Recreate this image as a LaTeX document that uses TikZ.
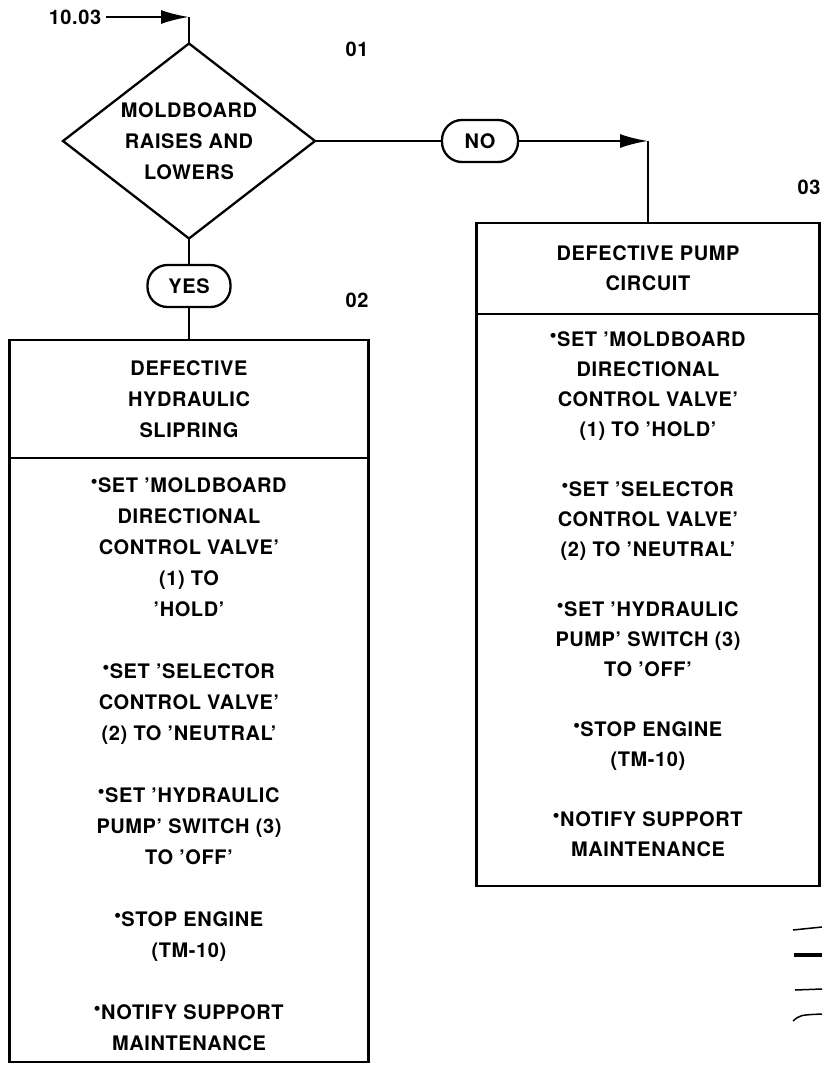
\documentclass[tikz,border=0pt]{standalone}
\usepackage{fontspec}
\setmainfont{TeX Gyre Heros}[LetterSpace=3]
\newfontfamily\dotfont{DejaVu Sans}
\usetikzlibrary{arrows.meta,positioning,shapes.geometric}

\newcommand{\stepdot}{\raisebox{9.5pt}{\dotfont\fontsize{6.5}{6.5}\selectfont ●}\hspace{1pt}}

\tikzset{
  flowline/.style={line width=2.3pt},
  flowarrow/.style={flowline,-{Latex[length=28pt,width=14pt]}},
  lettering/.style={font=\fontsize{20}{31}\selectfont\bfseries, align=center, inner sep=0pt, outer sep=0pt},
  narrow/.style={font=\fontsize{20}{30}\selectfont\bfseries},
  decision/.style={diamond, draw, flowline, aspect=1.3, minimum width=252pt, minimum height=195pt, lettering},
  answer/.style={draw, flowline, rounded corners=20pt, minimum height=42pt, lettering},
  headbox/.style={draw, flowline, lettering},
  bodybox/.style={draw, flowline, outer sep=0pt},
  stepno/.style={lettering},
}

\begin{document}
\begin{tikzpicture}[x=1pt,y=-1pt]
  \useasboundingbox (0,0) rectangle (822,1067);
  % entry and question 01
  \node[lettering] (entry) at (75,17) {10.03};
  \node[decision] (moldboard) at (189,141) {MOLDBOARD\\RAISES AND\\LOWERS};
  \coordinate (entryturn) at (moldboard.north |- entry);
  \draw[flowarrow] ([xshift=5pt]entry.east) -- (entryturn);
  \draw[flowline] (entryturn) -- (moldboard.north);
  \node[stepno] (n01) at (357,49) {01};
  % YES branch, step 02
  \node[answer, minimum width=83pt] (yes) at (189,286) {YES};
  \node[stepno] (n02) at (357,300) {02};
  \node[headbox, minimum width=359pt, minimum height=118pt, anchor=north] (slipring) at (189,340) {DEFECTIVE\\HYDRAULIC\\SLIPRING};
  \node[bodybox, minimum width=359pt, minimum height=604pt, below=0pt of slipring] (slipringsteps) {};
  \node[lettering, below=20pt of slipringsteps.north] (slipringtext) {\stepdot SET 'MOLDBOARD\\DIRECTIONAL\\CONTROL VALVE'\\(1) TO\\'HOLD'\\[31pt]
    \stepdot SET 'SELECTOR\\CONTROL VALVE'\\(2) TO 'NEUTRAL'\\[31pt]
    \stepdot SET 'HYDRAULIC\\PUMP' SWITCH (3)\\TO 'OFF'\\[31pt]
    \stepdot STOP ENGINE\\(TM-10)\\[31pt]
    \stepdot NOTIFY SUPPORT\\MAINTENANCE};
  \draw[flowline] (moldboard.south) -- (yes.north);
  \draw[flowline] (yes.south) -- (slipring.north);
  % NO branch, step 03
  \node[answer, minimum width=76pt] (no) at (480,141) {NO};
  \node[stepno] (n03) at (809,187) {03};
  \node[headbox, narrow, minimum width=343pt, minimum height=91pt, anchor=north] (pump) at (648,223) {DEFECTIVE PUMP\\CIRCUIT};
  \node[bodybox, minimum width=343pt, minimum height=572pt, below=0pt of pump] (pumpsteps) {};
  \node[lettering, narrow, below=18pt of pumpsteps.north] (pumptext) {\stepdot SET 'MOLDBOARD\\DIRECTIONAL\\CONTROL VALVE'\\(1) TO 'HOLD'\\[30pt]
    \stepdot SET 'SELECTOR\\CONTROL VALVE'\\(2) TO 'NEUTRAL'\\[30pt]
    \stepdot SET 'HYDRAULIC\\PUMP' SWITCH (3)\\TO 'OFF'\\[30pt]
    \stepdot STOP ENGINE\\(TM-10)\\[30pt]
    \stepdot NOTIFY SUPPORT\\MAINTENANCE};
  \coordinate (noturn) at (pump.north |- no.east);
  \draw[flowline] (moldboard.east) -- (no.west);
  \draw[flowarrow] (no.east) -- (noturn);
  \draw[flowline] (noturn) -- (pump.north);
  % marks at the page edge
  \draw[line width=1.5pt] (793,930) -- (822,927);
  \draw[line width=4pt] (794,955) -- (822,955);
  \draw[line width=1.5pt] (795,990) -- (822,989);
  \draw[line width=1.5pt] (793,1021) .. controls (800,1015) .. (822,1014);
\end{tikzpicture}
\end{document}
